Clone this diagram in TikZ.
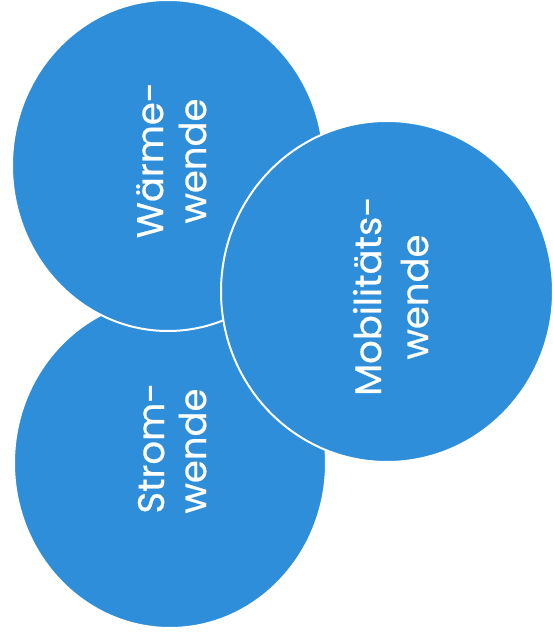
\documentclass[tikz,border=0pt]{standalone}
\usepackage{fontspec}
\setmainfont{Poppins}
\newfontfamily\labelfont{Poppins}[FakeBold=0.6]
\definecolor{wendeblue}{RGB}{46,142,218}
\begin{document}
\begin{tikzpicture}[x=1pt,y=1pt,
  field/.style={fill=wendeblue,draw=white,line width=2pt},
  lbl/.style={rotate=90,anchor=base,text=white,inner sep=0pt,
    font=\labelfont\fontsize{37}{44}\selectfont}]
  \useasboundingbox (0,0) rectangle (552,635);
  % the three transitions, stacked bottom to top
  \path[field] (170,172) ellipse [x radius=156,y radius=165];
  \path[field] (168,469.5) ellipse [x radius=156,y radius=165.5];
  \path[field] (387,343.5) ellipse [x radius=166,y radius=170.5];
  % labels
  \node[lbl] (w1) at (163,475) {Wärme-};
  \node[lbl] (w2) at (206,474) {wende};
  \node[lbl] (s1) at (164,187) {Strom-};
  \node[lbl] (s2) at (206,184) {wende};
  \node[lbl] (m1) at (381,339) {Mobilitäts-};
  \node[lbl] (m2) at (428,338) {wende};
\end{tikzpicture}
\end{document}
